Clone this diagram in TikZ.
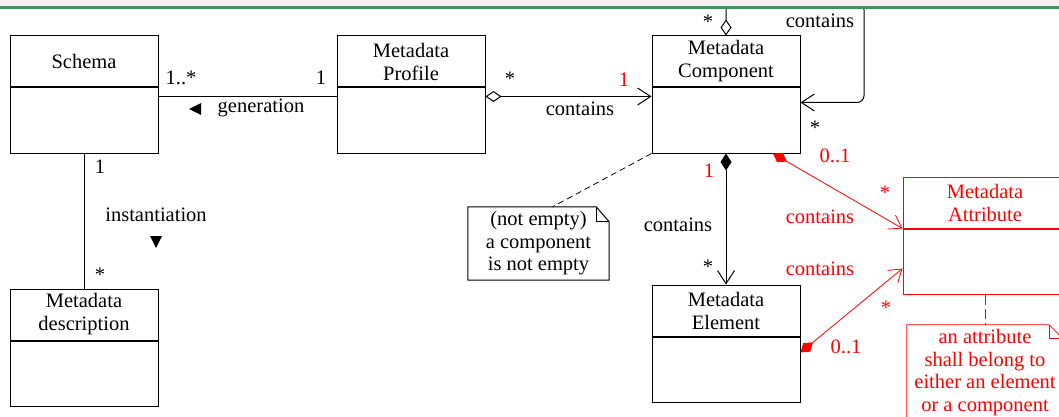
\documentclass[tikz,border=0pt]{standalone}
\usepackage{fontspec}
\setmainfont{Liberation Serif}
\usetikzlibrary{positioning,arrows.meta}
\definecolor{thanhxam}{RGB}{242,242,242}
\definecolor{vienxanh}{RGB}{70,145,90}
\definecolor{thuoctinh}{RGB}{255,0,0}

\tikzset{
	lop/.style={draw,line width=1pt,minimum width=148pt,minimum height=51pt,inner sep=0pt,align=center},
	thanlop/.style={draw,line width=1pt,minimum width=148pt,minimum height=65pt,inner sep=0pt,below=0pt of #1},
	nhan/.style={inner sep=0pt,text height=14pt,text depth=4pt},
	ghichu/.style={inner sep=0pt,align=center,font=\fontsize{20.5}{22.5}\selectfont},
	lienket/.style={line width=1pt},
	gomnhom/.style={line width=1pt,{Diamond[open,length=16pt,width=11pt]}-{Straight Barb[length=13pt,width=17pt]}},
	hopthanh/.style={line width=1pt,{Diamond[length=17pt,width=11pt]}-{Straight Barb[length=13pt,width=17pt]}},
	hopthanhdo/.style={thuoctinh,line width=0.8pt,{Diamond[length=16pt,width=11pt]}-{Straight Barb[length=12pt,width=16pt]}}
}

\begin{document}
\begin{tikzpicture}[x=1pt,y=-1pt,every node/.style={font=\fontsize{20.5}{23}\selectfont}]
		\useasboundingbox (0,0) rectangle (1059,417);
		
		\node[lop] (schema) at (84,61.5) {Schema};
		\node[thanlop=schema] (schemab) {};
		\node[lop] (profile) at (411,61.5) {Metadata\\Profile};
		\node[thanlop=profile] (profileb) {};
		\node[lop] (comp) at (726,61.5) {Metadata\\Component};
		\node[thanlop=comp] (compb) {};
		\node[lop] (desc) at (84,314.5) {Metadata\\description};
		\node[thanlop=desc] (descb) {};
		\node[lop] (elem) at (726,310.5) {Metadata\\Element};
		\node[thanlop=elem] (elemb) {};
		\node[lop,thuoctinh,minimum width=164pt] (attr) at (985,202.5) {Metadata\\Attribute};
		\node[thanlop=attr,thuoctinh,minimum width=164pt] (attrb) {};
		
		\node[ghichu,minimum width=141pt,minimum height=73pt] (notiz) at (538.5,243.5) {(not empty)\\a component\\is not empty};
		\draw[line width=1pt] (notiz.north west) -- ([xshift=-13pt]notiz.north east) -- ([yshift=-15pt]notiz.north east) -- (notiz.south east) -- (notiz.south west) -- cycle;
		\draw[line width=1pt] ([xshift=-13pt]notiz.north east) |- ([yshift=-15pt]notiz.north east);
		\node[ghichu,thuoctinh,minimum width=156pt,minimum height=95pt] (rnotiz) at (985,372.5) {an attribute\\shall belong to\\either an element\\or a component};
		\draw[thuoctinh,line width=0.8pt] (rnotiz.north west) -- ([xshift=-14pt]rnotiz.north east) -- ([yshift=-14pt]rnotiz.north east) -- (rnotiz.south east) -- (rnotiz.south west) -- cycle;
		\draw[thuoctinh,line width=0.8pt] ([xshift=-14pt]rnotiz.north east) |- ([yshift=-14pt]rnotiz.north east);
		
		\draw[lienket] ([yshift=-9pt]schemab.north east) -- ([yshift=-9pt]profileb.north west);
		\draw[lienket] (schemab.south) -- (desc.north);
		\draw[gomnhom] ([yshift=-9pt]profileb.north east) -- ([yshift=-9pt]compb.north west);
		\draw[gomnhom,rounded corners=7pt] (comp.north) |- (864,3) |- ([yshift=-15pt]compb.north east);
		\draw[hopthanh] (compb.south) -- (elem.north);
		\draw[hopthanhdo] ([xshift=47pt]compb.south) -- (attrb.north west);
		\draw[hopthanhdo] ([yshift=-16pt]elemb.north east) -- ([yshift=-40pt]attrb.north west);
		\draw[line width=0.8pt,dash pattern=on 6pt off 4pt] (compb.south west) -- ([xshift=14pt]notiz.north);
		\draw[thuoctinh,line width=0.8pt,dash pattern=on 10pt off 4pt] (attrb.south) -- (rnotiz.north);
		
		\node[nhan] (m1) at (181,79.5) {1..*};
		\node[nhan] (m2) at (321,79.5) {1};
		\node[nhan] (gen) at (261,108) {generation};
		\fill (189,109) -- (201,103) -- (201,115) -- cycle;
		\node[nhan] (m3) at (510,81) {*};
		\node[nhan,thuoctinh] (m4) at (624,81.5) {1};
		\node[nhan] (c1) at (580,110) {contains};
		\node[nhan] (m5) at (708,24) {*};
		\node[nhan] (c2) at (820,23) {contains};
		\node[nhan] (m6) at (815,130) {*};
		\node[nhan,thuoctinh] (m7) at (835,157.5) {0..1};
		\node[nhan,thuoctinh] (m8) at (709,172.5) {1};
		\node[nhan] (c3) at (678,226) {contains};
		\node[nhan] (m9) at (708,268) {*};
		\node[nhan,thuoctinh] (m10) at (885,194) {*};
		\node[nhan,thuoctinh] (c4) at (820,218) {contains};
		\node[nhan,thuoctinh] (c5) at (820,270) {contains};
		\node[nhan,thuoctinh] (m11) at (886,309) {*};
		\node[nhan,thuoctinh] (m12) at (846,348.5) {0..1};
		\node[nhan] (m13) at (100,168.5) {1};
		\node[nhan] (inst) at (156,216) {instantiation};
		\fill (150,236) -- (162,236) -- (156,248) -- cycle;
		\node[nhan] (m14) at (100,276) {*};
		
		\fill[thanhxam] (0,0) rectangle (1059,6);
		\draw[vienxanh,line width=2.5pt] (0,7.5) -- (1059,7.5);
	\end{tikzpicture}
\end{document}
